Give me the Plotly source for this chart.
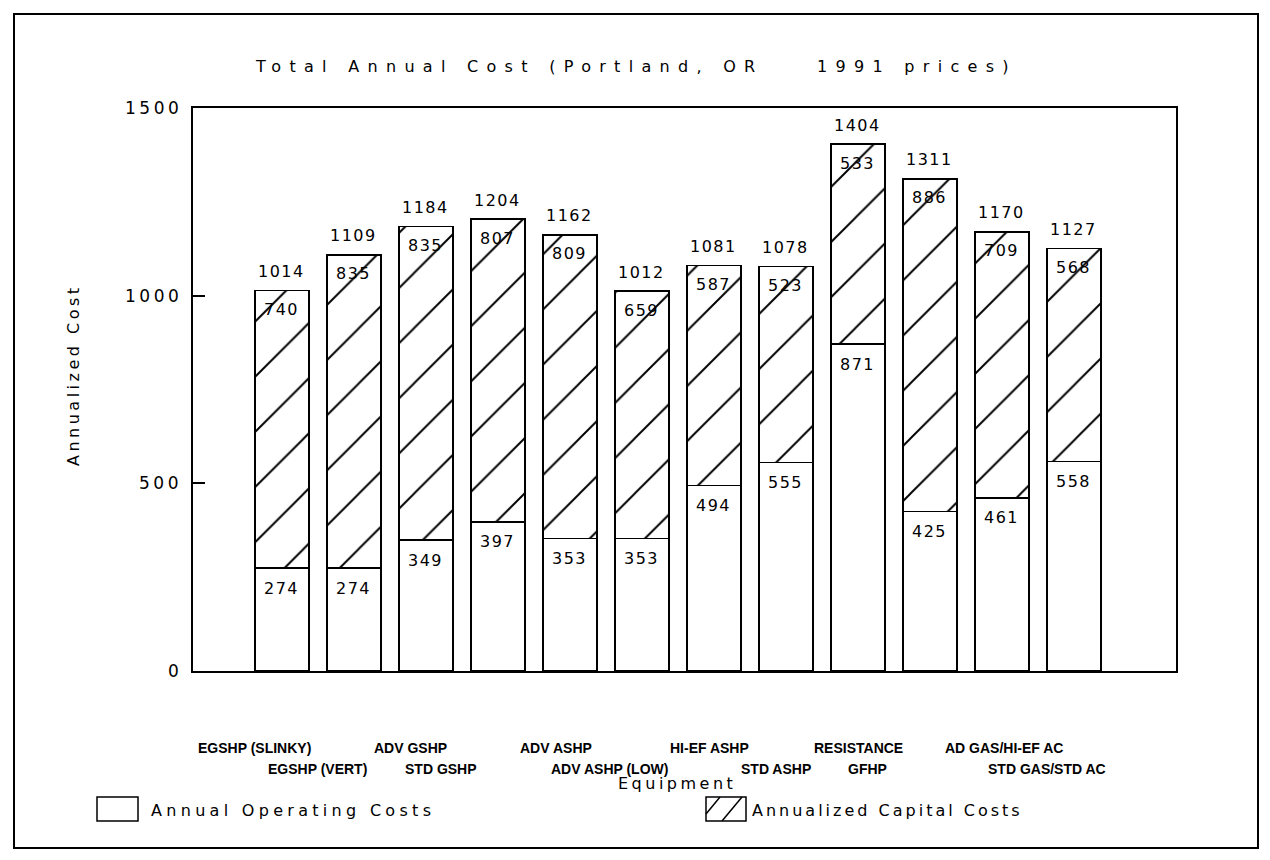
import plotly.graph_objects as go

# Equipment options and their annualized costs ($/yr, 1991 prices)
equipment = [
    "EGSHP (SLINKY)", "EGSHP (VERT)", "ADV GSHP", "STD GSHP", "ADV ASHP",
    "ADV ASHP (LOW)", "HI-EF ASHP", "STD ASHP", "RESISTANCE", "GFHP",
    "AD GAS/HI-EF AC", "STD GAS/STD AC",
]
operating_costs = [274, 274, 349, 397, 353, 353, 494, 555, 871, 425, 461, 558]
capital_costs = [740, 835, 835, 807, 809, 659, 587, 523, 533, 886, 709, 568]
total_costs = [1014, 1109, 1184, 1204, 1162, 1012, 1081, 1078, 1404, 1311, 1170, 1127]
y_ticks = [0, 500, 1000, 1500]

# Figure geometry (pixels)
W, H = 1270, 860
L, R, T, B = 193, 1176, 108, 671


def px(x):
    return (x - L) / (R - L)


def py(y):
    return (B - y) / (B - T)


def spaced(text, ls):
    return f'<span style="letter-spacing:{ls}px">{text}</span>'


FONT = "DejaVu Sans"
idx = list(range(len(equipment)))

fig = go.Figure()
fig.add_trace(go.Bar(
    x=idx, y=operating_costs, width=0.75, name="Annual Operating Costs",
    marker=dict(color="white", line=dict(color="black", width=1.5)),
    hoverinfo="skip",
))
fig.add_trace(go.Bar(
    x=idx, y=capital_costs, width=0.75, name="Annualized Capital Costs",
    marker=dict(
        color="white", line=dict(color="black", width=1.5),
        pattern=dict(shape="/", fgcolor="black", fgopacity=1, bgcolor="white",
                     size=39, solidity=0.05),
    ),
    hoverinfo="skip",
))

annotations = []
num_font = dict(family=FONT, size=16, color="black")
text_font = dict(family=FONT, size=16, color="black")


def note(**kw):
    base = dict(showarrow=False, xanchor="center", yanchor="middle")
    base.update(kw)
    annotations.append(base)


# value labels: operating (inside), capital (inside top), total (above)
for i in idx:
    note(x=i, y=operating_costs[i], xref="x", yref="y",
         text=spaced(str(operating_costs[i]), 1.5), yshift=-20, font=num_font)
    note(x=i, y=operating_costs[i] + capital_costs[i], xref="x", yref="y",
         text=spaced(str(capital_costs[i]), 1.5), yshift=-19, font=num_font)
    note(x=i, y=total_costs[i], xref="x", yref="y",
         text=spaced(str(total_costs[i]), 1.5), yshift=19, font=num_font)

# category labels in two staggered rows
label_shift = [-27, -36, -15, -57, -14, -32, -4, -10, 1, -62, 2, -27]
for i in idx:
    row_y = 748 if i % 2 == 0 else 769
    note(x=i, y=py(row_y), xref="x", yref="paper",
         text=f"<b>{equipment[i]}</b>", xshift=label_shift[i],
         font=dict(family="Liberation Sans", size=14, color="black"))

# y tick labels
for v in y_ticks:
    note(x=px(184), y=v, xref="paper", yref="y", xanchor="right",
         text=spaced(str(v), 3.5), font=dict(family=FONT, size=17, color="black"))

# titles
note(x=px(636), y=py(67), xref="paper", yref="paper",
     text=spaced("Total Annual Cost (Portland, OR\u00a0\u00a0\u00a0\u00a01991 prices)", 8.3),
     font=text_font)
note(x=px(677), y=py(783), xref="paper", yref="paper",
     text=spaced("Equipment", 3.5), font=text_font)
note(x=px(73), y=py(375), xref="paper", yref="paper", textangle=-90,
     text=spaced("Annualized Cost", 3.5), font=text_font)

# legend entries
note(x=px(149), y=py(810), xref="paper", yref="paper", xanchor="left",
     text=spaced("Annual Operating Costs", 4.3), font=text_font)
note(x=px(750), y=py(810), xref="paper", yref="paper", xanchor="left",
     text=spaced("Annualized Capital Costs", 3), font=text_font)

shapes = [
    # outer frame
    dict(type="rect", xref="paper", yref="paper", x0=px(14), x1=px(1258), y0=py(848), y1=py(14),
         line=dict(color="black", width=2), layer="below"),
    # legend keys
    dict(type="rect", xref="paper", yref="paper", x0=px(97), x1=px(138), y0=py(821), y1=py(797),
         line=dict(color="black", width=1.5)),
    dict(type="rect", xref="paper", yref="paper", x0=px(706), x1=px(746), y0=py(821), y1=py(797),
         line=dict(color="black", width=1.5)),
    dict(type="line", xref="paper", yref="paper", x0=px(706), x1=px(720), y0=py(814), y1=py(797),
         line=dict(color="black", width=1.5)),
    dict(type="line", xref="paper", yref="paper", x0=px(722), x1=px(742), y0=py(821), y1=py(797),
         line=dict(color="black", width=1.5)),
]

fig.update_layout(
    width=W, height=H,
    margin=dict(l=L, r=W - R, t=T, b=H - B, pad=0),
    paper_bgcolor="white", plot_bgcolor="white",
    barmode="stack", showlegend=False,
    xaxis=dict(range=[-1.236, 12.42], showticklabels=False, ticks="", showgrid=False,
               zeroline=False, showline=True, linecolor="black", linewidth=1.5, mirror=True),
    yaxis=dict(range=[0, 1500], tickvals=y_ticks, showticklabels=False, ticks="inside",
               ticklen=12, tickcolor="black", tickwidth=1.5, showgrid=False, zeroline=False,
               showline=True, linecolor="black", linewidth=1.5, mirror=True),
    annotations=annotations, shapes=shapes,
)

fig.write_html("out.html")
